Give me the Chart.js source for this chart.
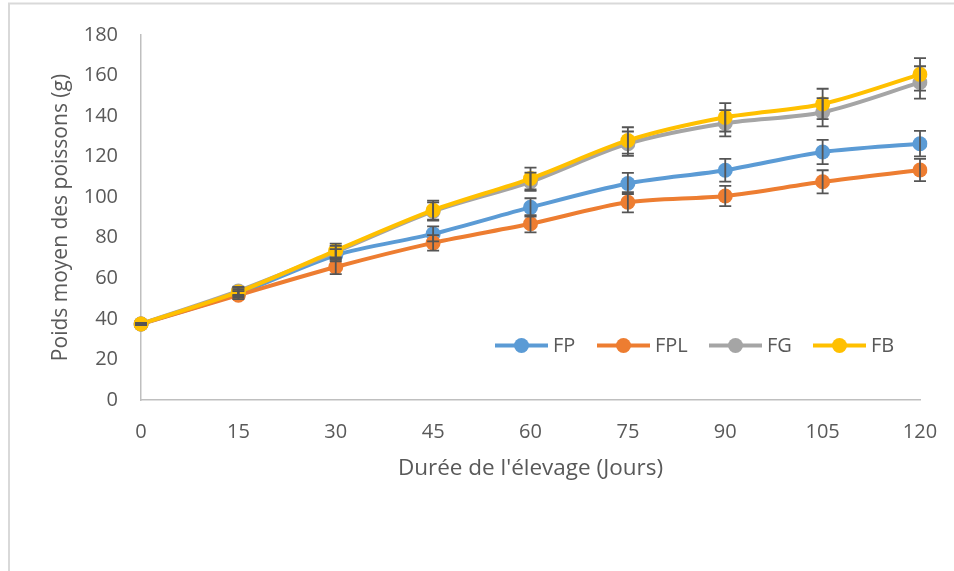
<!DOCTYPE html>
<html>
<head>
<meta charset="utf-8">
<script src="https://cdn.jsdelivr.net/npm/chart.js@4"></script>
<style>
html,body{margin:0;padding:0;background:#fff;}
#wrap{width:954px;height:571px;position:relative;}
</style>
</head>
<body>
<div id="wrap"><canvas id="c" width="954" height="571"></canvas></div>
<script>
const categories = ['0','15','30','45','60','75','90','105','120'];
const seriesNames = ['FP','FPL','FG','FB'];
const fpValues  = [37.5, 52.5, 71.4, 81.9, 95.0, 106.8, 113.3, 122.3, 126.4];
const fplValues = [37.5, 51.7, 65.6, 77.5, 86.9, 97.5, 100.6, 107.6, 113.4];
const fgValues  = [37.5, 53.8, 73.0, 93.0, 107.6, 126.4, 136.5, 141.9, 156.6];
const fbValues  = [37.5, 53.3, 73.7, 93.6, 109.2, 128.0, 139.4, 146.0, 160.6];
const fpErr  = [0.5, 2.0, 3.0, 3.7, 4.5, 5.2, 5.6, 6.0, 6.3];
const fplErr = [0.5, 2.0, 3.5, 3.8, 4.2, 5.0, 5.0, 5.7, 5.5];
const fgErr  = [0.5, 2.0, 3.0, 4.5, 4.5, 6.0, 6.5, 7.0, 8.0];
const fbErr  = [0.5, 2.0, 3.4, 4.7, 5.4, 6.5, 7.0, 7.5, 8.0];
const colors = ['#5B9BD5','#ED7D31','#A5A5A5','#FFC000'];
const FONT = "'Open Sans', 'Liberation Sans', sans-serif";
const TXT = '#595959';

const allValues = [fpValues, fplValues, fgValues, fbValues];
const allErr = [fpErr, fplErr, fgErr, fbErr];

const datasets = seriesNames.map((n, i) => ({
  label: n,
  data: allValues[i],
  errors: allErr[i],
  borderColor: colors[i],
  backgroundColor: colors[i],
  pointBackgroundColor: colors[i],
  pointBorderColor: colors[i],
  borderWidth: 4,
  pointRadius: 7.5,
  pointBorderWidth: 0,
  tension: 0.3,
  order: 4 - i
}));

const borderPlugin = {
  id: 'frame',
  beforeDraw(chart) {
    const ctx = chart.ctx;
    ctx.save();
    ctx.fillStyle = '#fff';
    ctx.fillRect(0, 0, chart.width, chart.height);
    ctx.strokeStyle = '#D9D9D9';
    ctx.lineWidth = 2;
    ctx.beginPath();
    ctx.moveTo(9, chart.height + 5);
    ctx.lineTo(9, 3.5);
    ctx.lineTo(chart.width + 5, 3.5);
    ctx.stroke();
    ctx.restore();
  }
};

const errorPlugin = {
  id: 'errbars',
  afterDatasetsDraw(chart) {
    const ctx = chart.ctx;
    const y = chart.scales.y;
    ctx.save();
    ctx.strokeStyle = '#555555';
    ctx.lineWidth = 1.8;
    chart.data.datasets.forEach((ds, di) => {
      const meta = chart.getDatasetMeta(di);
      meta.data.forEach((pt, i) => {
        const v = ds.data[i], e = ds.errors[i];
        const x = pt.x;
        const yt = y.getPixelForValue(v + e);
        const yb = y.getPixelForValue(v - e);
        const w = 6;
        ctx.beginPath();
        ctx.moveTo(x, yt); ctx.lineTo(x, yb);
        ctx.moveTo(x - w, yt); ctx.lineTo(x + w, yt);
        ctx.moveTo(x - w, yb); ctx.lineTo(x + w, yb);
        ctx.stroke();
      });
    });
    ctx.restore();
  }
};

const legendPlugin = {
  id: 'customLegend',
  afterDraw(chart) {
    const ctx = chart.ctx;
    const starts = [495, 597, 709, 813];
    const yc = 345.5;
    ctx.save();
    ctx.font = '20px ' + FONT;
    ctx.textBaseline = 'middle';
    ctx.textAlign = 'left';
    chart.data.datasets.forEach((ds, i) => {
      const x0 = starts[i];
      ctx.strokeStyle = ds.borderColor;
      ctx.lineWidth = 4;
      ctx.beginPath();
      ctx.moveTo(x0, yc); ctx.lineTo(x0 + 53, yc);
      ctx.stroke();
      ctx.fillStyle = ds.borderColor;
      ctx.beginPath();
      ctx.arc(x0 + 26.5, yc, 7.5, 0, Math.PI * 2);
      ctx.fill();
      ctx.fillStyle = TXT;
      ctx.fillText(ds.label, x0 + 58, yc + 1);
    });
    ctx.restore();
  }
};

new Chart(document.getElementById('c'), {
  type: 'line',
  data: { labels: categories, datasets },
  plugins: [borderPlugin, errorPlugin, legendPlugin],
  options: {
    responsive: false,
    animation: false,
    layout: { padding: { left: 0, top: 31, right: 34, bottom: 0 } },
    plugins: { legend: { display: false }, tooltip: { enabled: false } },
    scales: {
      x: {
        type: 'category',
        offset: false,
        grid: { display: false, drawTicks: true, tickLength: 17 },
        border: { display: true, color: '#BFBFBF', width: 1.5 },
        ticks: { color: TXT, font: { family: FONT, size: 20 }, padding: 3, maxRotation: 0, autoSkip: false },
        title: { display: true, text: "Durée de l'élevage (Jours)", color: TXT, font: { family: FONT, size: 22.5 }, padding: { top: 0, bottom: 89 } },
        afterFit(s) { s.height = 171; }
      },
      y: {
        min: 0, max: 180,
        grid: { display: false, drawTicks: false },
        border: { display: true, color: '#BFBFBF', width: 1.5 },
        ticks: { stepSize: 20, color: TXT, font: { family: FONT, size: 20 }, padding: 23 },
        title: { display: true, text: 'Poids moyen des poissons (g)', color: TXT, font: { family: FONT, size: 21 }, padding: { top: 48, bottom: 0 } },
        afterFit(s) { s.width = 141; }
      }
    }
  }
});
</script>
</body>
</html>
